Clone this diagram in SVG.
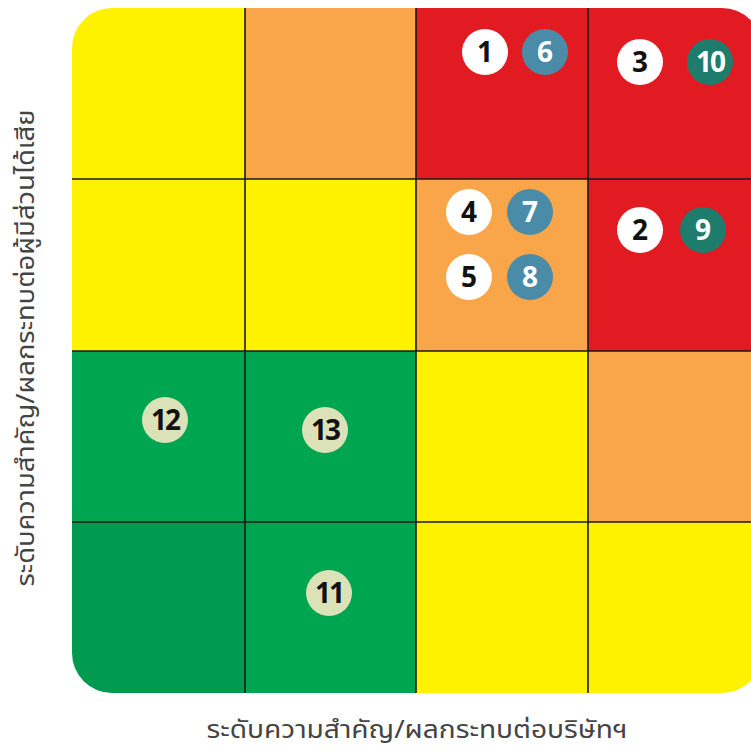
<svg xmlns="http://www.w3.org/2000/svg" width="751" height="750" viewBox="0 0 751 750">
<style>
.y{fill:#FFF200}.o{fill:#F9A54A}.r{fill:#E21B23}.g{fill:#00A551}.gd{fill:#009A4E}
.grid{stroke:#1a1a1a;stroke-width:1.6;fill:none}
.cw{fill:#FFFFFF}.cb{fill:#4A8CA8}.ct{fill:#1E7C6C}.cl{fill:#DCE2B8}
.n{font-family:"Noto Sans","Liberation Sans",sans-serif;font-weight:700;font-size:28px;text-anchor:middle}
.nk{fill:#111}.nw{fill:#FFFFFF}
.ax{font-family:"Noto Sans Thai","Noto Sans","DejaVu Sans",sans-serif;font-size:25px;fill:#444;text-anchor:middle}
</style>
<defs>
<clipPath id="board"><rect x="72" y="8" width="690" height="685" rx="40" ry="40"/></clipPath>
</defs>
<g id="matrix" clip-path="url(#board)">
<rect class="y" x="72" y="8" width="173" height="171"/>
<rect class="o" x="245" y="8" width="171" height="171"/>
<rect class="r" x="416" y="8" width="172" height="171"/>
<rect class="r" x="588" y="8" width="174" height="171"/>
<rect class="y" x="72" y="179" width="173" height="172"/>
<rect class="y" x="245" y="179" width="171" height="172"/>
<rect class="o" x="416" y="179" width="172" height="172"/>
<rect class="r" x="588" y="179" width="174" height="172"/>
<rect class="g" x="72" y="351" width="173" height="171"/>
<rect class="g" x="245" y="351" width="171" height="171"/>
<rect class="y" x="416" y="351" width="172" height="171"/>
<rect class="o" x="588" y="351" width="174" height="171"/>
<rect class="gd" x="72" y="522" width="173" height="171"/>
<rect class="g" x="245" y="522" width="171" height="171"/>
<rect class="y" x="416" y="522" width="172" height="171"/>
<rect class="y" x="588" y="522" width="174" height="171"/>
<g class="grid">
<line x1="245" y1="8" x2="245" y2="693"/>
<line x1="416" y1="8" x2="416" y2="693"/>
<line x1="588" y1="8" x2="588" y2="693"/>
<line x1="72" y1="179" x2="762" y2="179"/>
<line x1="72" y1="351" x2="762" y2="351"/>
<line x1="72" y1="522" x2="762" y2="522"/>
</g>
</g>
<g id="m1"><circle class="cw" cx="485" cy="52" r="23"/><text class="n nk" x="485" y="62">1</text></g>
<g id="m6"><circle class="cb" cx="545" cy="52" r="23"/><text class="n nw" x="545" y="62">6</text></g>
<g id="m3"><circle class="cw" cx="640" cy="62" r="23"/><text class="n nk" x="640" y="72">3</text></g>
<g id="m10"><circle class="ct" cx="710" cy="62" r="23"/><text class="n nw" x="710" y="72" letter-spacing="-2">10</text></g>
<g id="m4"><circle class="cw" cx="469" cy="212" r="23"/><text class="n nk" x="469" y="222">4</text></g>
<g id="m7"><circle class="cb" cx="530" cy="212" r="23"/><text class="n nw" x="530" y="222">7</text></g>
<g id="m5"><circle class="cw" cx="469" cy="277" r="23"/><text class="n nk" x="469" y="287">5</text></g>
<g id="m8"><circle class="cb" cx="530" cy="277" r="23"/><text class="n nw" x="530" y="287">8</text></g>
<g id="m2"><circle class="cw" cx="640" cy="230" r="23"/><text class="n nk" x="640" y="240">2</text></g>
<g id="m9"><circle class="ct" cx="703" cy="230" r="23"/><text class="n nw" x="703" y="240">9</text></g>
<g id="m12"><circle class="cl" cx="165" cy="420" r="23"/><text class="n nk" x="165" y="430" letter-spacing="-2">12</text></g>
<g id="m13"><circle class="cl" cx="325" cy="430" r="23"/><text class="n nk" x="325" y="440" letter-spacing="-2">13</text></g>
<g id="m11"><circle class="cl" cx="329" cy="593" r="23"/><text class="n nk" x="329" y="603" letter-spacing="-2">11</text></g>
<g id="labels">
<text class="ax" x="417" y="738" textLength="421" lengthAdjust="spacingAndGlyphs">ระดับความสำคัญ/ผลกระทบต่อบริษัทฯ</text>
<text class="ax" transform="translate(34,348) rotate(-90)" textLength="477" lengthAdjust="spacingAndGlyphs">ระดับความสำคัญ/ผลกระทบต่อผู้มีส่วนได้เสีย</text>
</g>
</svg>
